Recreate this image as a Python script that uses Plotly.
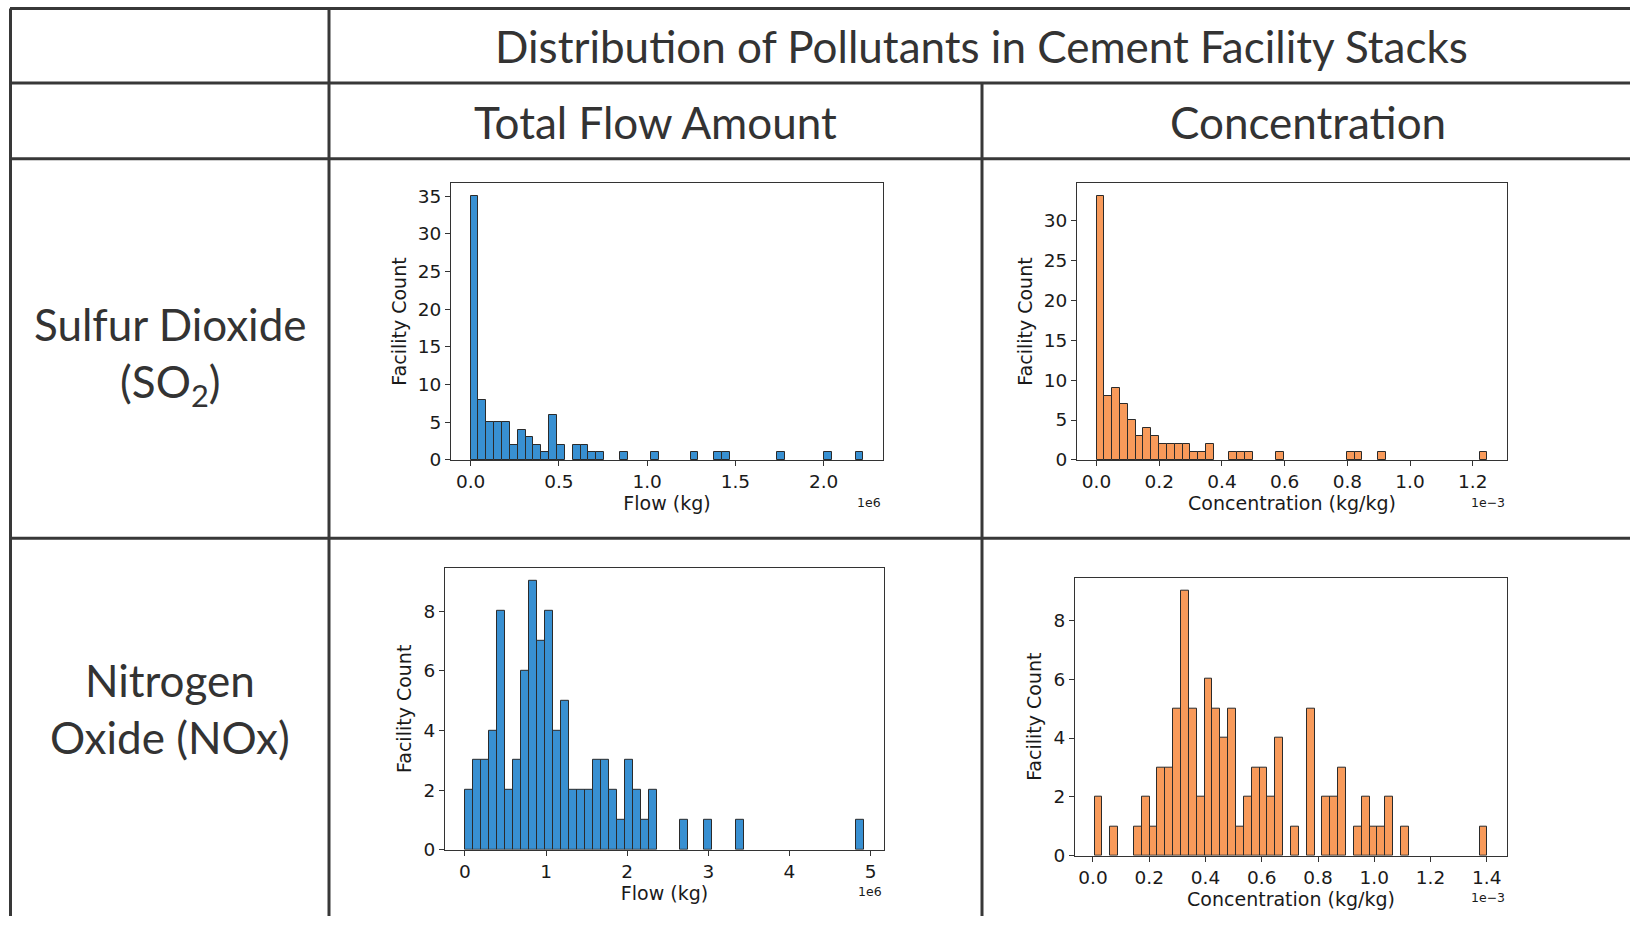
import numpy as np
import plotly.graph_objects as go

# ---------------- data (histogram bin counts, 50 bins each) ----------------
SO2_FLOW_COUNTS = [35, 8, 5, 5, 5, 2, 4, 3, 2, 1, 6, 2, 0, 2, 2, 1, 1, 0, 0, 1,
                   0, 0, 0, 1, 0, 0, 0, 0, 1, 0, 0, 1, 1, 0, 0, 0, 0, 0, 0, 1,
                   0, 0, 0, 0, 0, 1, 0, 0, 0, 1]
SO2_FLOW_RANGE = (0.0, 2.225)        # x 1e6 kg

SO2_CONC_COUNTS = [33, 8, 9, 7, 5, 3, 4, 3, 2, 2, 2, 2, 1, 1, 2, 0, 0, 1, 1, 1,
                   0, 0, 0, 1, 0, 0, 0, 0, 0, 0, 0, 0, 1, 1, 0, 0, 1, 0, 0, 0,
                   0, 0, 0, 0, 0, 0, 0, 0, 0, 1]
SO2_CONC_RANGE = (0.0, 1.247)        # x 1e-3 kg/kg

NOX_FLOW_COUNTS = [2, 3, 3, 4, 8, 2, 3, 6, 9, 7, 8, 4, 5, 2, 2, 2, 3, 3, 2, 1,
                   3, 2, 1, 2, 0, 0, 0, 1, 0, 0, 1, 0, 0, 0, 1, 0, 0, 0, 0, 0,
                   0, 0, 0, 0, 0, 0, 0, 0, 0, 1]
NOX_FLOW_RANGE = (0.0, 4.92)         # x 1e6 kg

NOX_CONC_COUNTS = [2, 0, 1, 0, 0, 1, 2, 1, 3, 3, 5, 9, 5, 2, 6, 5, 4, 5, 1, 2,
                   3, 3, 2, 4, 0, 1, 0, 5, 0, 2, 2, 3, 0, 1, 2, 1, 1, 2, 0, 1,
                   0, 0, 0, 0, 0, 0, 0, 0, 0, 1]
NOX_CONC_RANGE = (0.006, 1.402)      # x 1e-3 kg/kg

TITLE = "Distribution of Pollutants in Cement Facility Stacks"
COL_HEADERS = ["Total Flow Amount", "Concentration"]
ROW_HEADERS = ["Sulfur Dioxide<br>(SO<sub>2</sub>)", "Nitrogen<br>Oxide (NOx)"]
Y_LABEL = "Facility Count"
X_LABELS = ["Flow (kg)", "Concentration (kg/kg)"]
OFFSETS = ["1e6", "1e\u22123"]

# ---------------- layout constants ----------------
W, H = 1630, 926
BLUE = "#3890d2"
ORANGE = "#f89a5a"
EDGE = "#2b2b2b"
LINE = "#383838"
TXT = "#333333"
TICK_FONT = dict(family="DejaVu Sans", size=18.5, color="#1a1a1a")
LAB_FONT = dict(family="DejaVu Sans", size=19, color="#1a1a1a")
CELL_FONT = dict(family="Lato", size=44, color=TXT)


def px(x):
    return x / W


def py(y):
    return 1 - y / H


panels = [
    # counts, range, color, x-domain px, y-domain px, dtick x, fmt, ydtick, xlabel, offset
    (SO2_FLOW_COUNTS, SO2_FLOW_RANGE, BLUE, (451, 883), (185, 465), 0.5, ".1f", 5, X_LABELS[0], OFFSETS[0]),
    (SO2_CONC_COUNTS, SO2_CONC_RANGE, ORANGE, (1077, 1507), (185, 465), 0.2, ".1f", 5, X_LABELS[1], OFFSETS[1]),
    (NOX_FLOW_COUNTS, NOX_FLOW_RANGE, BLUE, (445, 884), (574, 859), 1, "d", 2, X_LABELS[0], OFFSETS[0]),
    (NOX_CONC_COUNTS, NOX_CONC_RANGE, ORANGE, (1075, 1507), (584, 865), 0.2, ".1f", 2, X_LABELS[1], OFFSETS[1]),
]

fig = go.Figure()
annotations = []
layout_axes = {}

for i, (counts, (lo, hi), color, xd, yd, dx, fmt, dy, xlab, off) in enumerate(panels):
    n = len(counts)
    edges = np.linspace(lo, hi, n + 1)
    centers = (edges[:-1] + edges[1:]) / 2
    width = edges[1] - edges[0]
    counts = np.array(counts)
    mask = counts > 0
    sfx = "" if i == 0 else str(i + 1)
    fig.add_trace(go.Bar(
        x=centers[mask], y=counts[mask], width=width,
        marker=dict(color=color, line=dict(color=EDGE, width=1)),
        xaxis="x" + sfx, yaxis="y" + sfx, showlegend=False, hoverinfo="x+y"))
    span = hi - lo
    ymax = counts.max() * 1.05
    layout_axes["xaxis" + sfx] = dict(
        domain=[px(xd[0]), px(xd[1])], anchor="y" + sfx,
        range=[lo - 0.05 * span, hi + 0.05 * span],
        dtick=dx, tick0=0, tickformat=fmt, ticks="outside", ticklen=5,
        tickcolor="#333", showline=True, mirror=True, linecolor="#333", linewidth=1,
        showgrid=False, zeroline=False, tickfont=TICK_FONT,
        title=dict(text=xlab, font=LAB_FONT, standoff=3))
    layout_axes["yaxis" + sfx] = dict(
        domain=[py(yd[1]), py(yd[0])], anchor="x" + sfx,
        range=[0, ymax], dtick=dy, tick0=0, ticks="outside", ticklen=5,
        tickcolor="#333", showline=True, mirror=True, linecolor="#333", linewidth=1,
        showgrid=False, zeroline=False, tickfont=TICK_FONT,
        title=dict(text=Y_LABEL, font=LAB_FONT, standoff=6))
    annotations.append(dict(
        text=off, xref="paper", yref="paper", x=px(xd[1]), y=py(yd[1] + 33),
        xanchor="right", yanchor="top", showarrow=False,
        font=dict(family="DejaVu Sans", size=12.5, color="#1a1a1a")))

# table text
annotations.append(dict(text=TITLE, xref="paper", yref="paper", x=px(981), y=py(46),
                        xanchor="center", yanchor="middle", showarrow=False, font=CELL_FONT))
for cx, t in zip([655, 1308], COL_HEADERS):
    annotations.append(dict(text=t, xref="paper", yref="paper", x=px(cx), y=py(123),
                            xanchor="center", yanchor="middle", showarrow=False, font=CELL_FONT))
for cy, t in zip([360, 716], ROW_HEADERS):
    annotations.append(dict(text=t, xref="paper", yref="paper", x=px(170), y=py(cy),
                            xanchor="center", yanchor="middle", showarrow=False,
                            font=CELL_FONT))

# table lines
shapes = []
for yy in [8.5, 84, 160.5, 544]:
    shapes.append(dict(type="line", xref="paper", yref="paper", x0=px(10), x1=1.0,
                       y0=py(yy), y1=py(yy), line=dict(color=LINE, width=3)))
for xx, y0 in [(10.5, 8.5), (329, 8.5), (982, 84)]:
    shapes.append(dict(type="line", xref="paper", yref="paper", x0=px(xx), x1=px(xx),
                       y0=py(y0), y1=0.0, line=dict(color=LINE, width=3)))

fig.update_layout(
    width=W, height=H, autosize=False, margin=dict(l=0, r=0, t=0, b=0),
    paper_bgcolor="white", plot_bgcolor="white", bargap=0,
    annotations=annotations, shapes=shapes, **layout_axes)

fig.write_html("out.html", config={"responsive": False})
